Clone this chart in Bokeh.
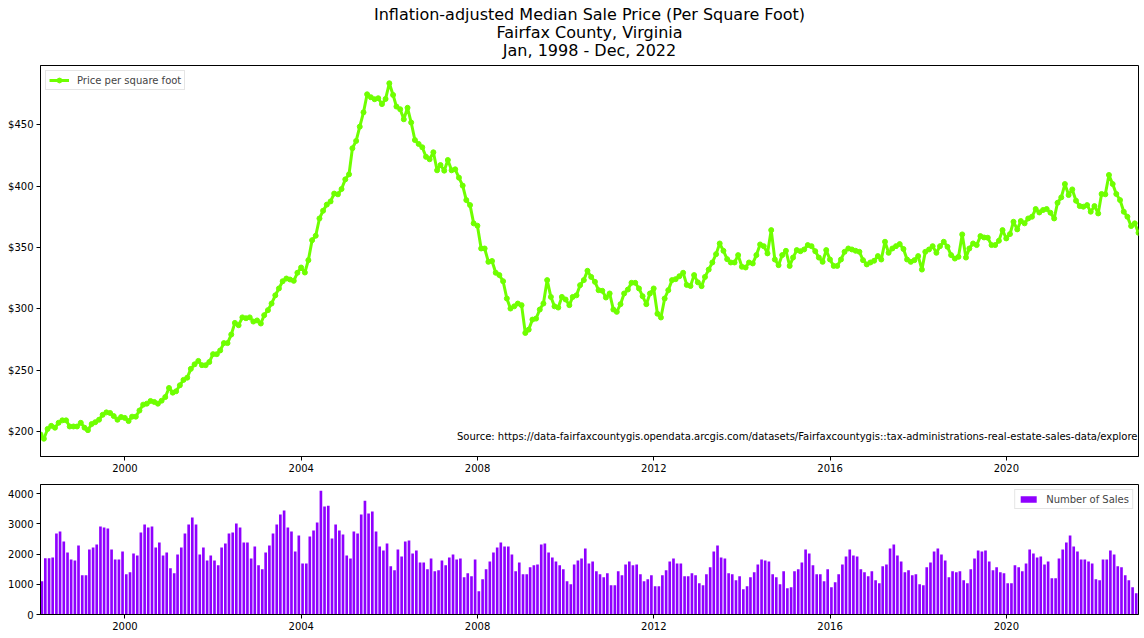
import pandas as pd
from bokeh.plotting import figure
from bokeh.layouts import column
from bokeh.models import (Range1d, FixedTicker, DatetimeTickFormatter, PrintfTickFormatter,
                          Label, ColumnDataSource)
from bokeh.embed import file_html
from bokeh.resources import INLINE
from bokeh.core.properties import value

# ---------------- data ----------------
title_lines = ["Inflation-adjusted Median Sale Price (Per Square Foot)",
               "Fairfax County, Virginia",
               "Jan, 1998 - Dec, 2022"]
source_note = ("Source: https://data-fairfaxcountygis.opendata.arcgis.com/datasets/"
               "Fairfaxcountygis::tax-administrations-real-estate-sales-data/explore")
first_month = "1998-01-01"

price = [
    197.5, 194, 202, 204.5, 203, 207, 209, 209, 204, 204, 204, 207,
    203, 201, 206, 207.5, 209.5, 213.5, 215.5, 215, 212.5, 209.5, 211.7, 211,
    208.4, 212, 212, 217, 221.8, 222.6, 224.8, 224, 222.6, 225, 228, 235.4,
    231.6, 232.7, 237.6, 242, 243.8, 251, 254.7, 257.5, 254, 254, 256.6, 263,
    263, 266, 272, 272, 279, 288.5, 286.6, 293, 292.3, 293, 289.6, 290.5,
    288, 294.8, 298.9, 304.3, 311, 316.6, 322.5, 324.7, 323.9, 322.8, 329.4, 333.7,
    329.6, 339.7, 356, 359.6, 373.7, 380, 385, 387.6, 394, 393.4, 397.7, 405.6,
    409.7, 431, 437, 448.6, 460.3, 475, 472.6, 471, 471.8, 467, 471.2, 484,
    474.5, 465, 462.8, 454.6, 464, 452, 437.7, 434.5, 431.8, 424, 422, 427.7,
    413, 417.3, 412.7, 421.4, 413, 413.8, 407, 400.5, 388.7, 384.6, 369.7, 367.8,
    349.2, 349.2, 338.3, 339, 329.4, 327.5, 322.5, 308.4, 300.2, 302, 304.3, 303,
    280.3, 283, 291.2, 292, 299.4, 304.3, 323.4, 309.7, 302, 301, 309.7, 307.6,
    303, 309.7, 311, 319.3, 323.4, 331, 326, 322, 315.2, 314.7, 309.2, 312.5,
    299.4, 297.5, 303.8, 312.5, 315.7, 321.2, 321.2, 316.6, 310.3, 303.8, 312.5, 316.6,
    296, 292.9, 308.4, 315.2, 323.4, 324.2, 326.6, 329.4, 319.5, 318.6, 327.5, 321.6,
    318.5, 326, 332, 337.8, 344.6, 353.3, 347.3, 340.5, 337.8, 337.8, 343.8, 334.3,
    333.7, 337.8, 337, 343.8, 352.5, 351.1, 345.2, 364.2, 340.2, 335.6, 343.8, 347.3,
    335, 341.8, 347.9, 347, 348.4, 352, 351.1, 347, 341.8, 338.3, 347.9, 340.2,
    335, 335, 340.2, 346.5, 349.2, 348.4, 347.3, 346.5, 339.7, 336.2, 337.8, 339.2,
    343, 340.2, 354.7, 345.7, 349.2, 351.1, 352.8, 348.8, 340.2, 338.3, 339.7, 343,
    332, 346.5, 348.4, 351.1, 345.7, 351.1, 354.7, 350.6, 343.8, 341, 342.4, 360.7,
    341.8, 349.2, 353.3, 352, 359.3, 358.2, 358, 352, 352, 355.5, 364.2, 357.4,
    361, 371, 364.8, 371.6, 369.7, 373.7, 375.1, 381.4, 378.6, 380.6, 381.4, 378.4,
    373.7, 386.5, 390.9, 401.8, 392.8, 397.4, 388.2, 383.8, 383.3, 384.6, 379.2, 383.8,
    377.8, 393.7, 393.4, 409.2, 401.8, 393.7, 388.7, 379.2, 375.1, 367.5, 369.7, 362,
]

sales = [
    1000, 1100, 1860, 1860, 1890, 2684, 2750, 2420, 2057, 1826, 1793, 2288,
    1298, 1298, 2156, 2222, 2321, 2915, 2882, 2849, 2156, 1826, 1826, 2090,
    1331, 1397, 2024, 1958, 2717, 2981, 2882, 2915, 2222, 2387, 1958, 2057,
    1529, 1364, 1991, 2222, 2684, 2981, 3212, 2981, 1991, 2222, 1793, 1958,
    1793, 1628, 2222, 2354, 2684, 2717, 3014, 2882, 2387, 2387, 1859, 2255,
    1628, 1496, 2057, 2288, 2684, 2981, 3311, 3443, 2882, 2750, 2090, 2618,
    1694, 1694, 2585, 2783, 3047, 4103, 3575, 3608, 2519, 2981, 2783, 2651,
    1958, 1859, 2750, 2684, 3311, 3773, 3344, 3410, 2750, 2255, 2123, 2354,
    1595, 1463, 2156, 1925, 2420, 2453, 2024, 2123, 1727, 1727, 1496, 1859,
    1430, 1463, 1793, 1628, 1892, 1991, 1826, 1859, 1232, 1364, 1265, 1826,
    770, 1166, 1496, 1760, 2057, 2222, 2387, 2255, 2255, 1991, 1430, 1727,
    1331, 1331, 1562, 1628, 1661, 2321, 2354, 2057, 1892, 1760, 1628, 1496,
    1100, 1001, 1661, 1793, 1859, 2189, 1694, 1760, 1430, 1331, 1232, 1364,
    968, 968, 1430, 1298, 1661, 1760, 1628, 1661, 1331, 1100, 1166, 1298,
    935, 935, 1298, 1463, 1760, 1859, 1694, 1694, 1265, 1265, 1364, 1298,
    1034, 968, 1331, 1562, 2090, 2288, 1892, 1859, 1364, 1331, 1133, 1265,
    836, 935, 1232, 1397, 1661, 1826, 1793, 1760, 1331, 1232, 1001, 1430,
    869, 902, 1430, 1496, 1727, 2156, 2024, 1628, 1331, 1331, 1100, 1496,
    902, 1067, 1331, 1661, 1925, 2156, 1958, 1925, 1496, 1397, 1265, 1430,
    1133, 1034, 1595, 1661, 2189, 2321, 1958, 1760, 1397, 1463, 1298, 1331,
    1001, 968, 1562, 1727, 2090, 2189, 1991, 1793, 1232, 1430, 1397, 1430,
    1133, 1034, 1496, 1859, 2123, 2090, 2123, 1760, 1463, 1562, 1397, 1364,
    1034, 1034, 1628, 1562, 1430, 1694, 2156, 2024, 1892, 1925, 1661, 1760,
    1199, 1199, 1859, 2156, 2387, 2618, 2255, 2090, 1826, 1826, 1760, 1694,
    1166, 1133, 1826, 1826, 2123, 1991, 1595, 1562, 1298, 1133, 902, 705,
]

year_ticks = [2000, 2004, 2008, 2012, 2016, 2020]
price_ticks = [200, 250, 300, 350, 400, 450]
sales_ticks = [0, 1000, 2000, 3000, 4000]

# ---------------- styling ----------------
FONT = "DejaVu Sans"
GREEN = "#6fff00"
PURPLE = "#8f00ff"
W = 1144

month_start = pd.date_range(first_month, periods=len(price), freq="MS")
month_end = month_start + pd.offsets.MonthEnd(0)
bar_days = 22
bar_center = month_start + pd.Timedelta(days=bar_days / 2)
bar_width_ms = bar_days * 86400000

x_lo = month_end[0].to_pydatetime()
x_hi = month_end[-1].to_pydatetime()
tick_ms = [pd.Timestamp(f"{y}-01-01").timestamp() * 1000 for y in year_ticks]


def style(p):
    p.grid.visible = False
    p.outline_line_color = "black"
    p.outline_line_width = 1
    p.background_fill_color = "white"
    p.border_fill_color = "white"
    for ax in p.axis:
        ax.axis_line_color = "black"
        ax.axis_line_width = 1
        ax.major_tick_out = 4
        ax.major_tick_in = 0
        ax.minor_tick_out = 0
        ax.minor_tick_in = 0
        ax.major_tick_line_color = "black"
        ax.major_label_text_font = FONT
        ax.major_label_text_font_size = "10px"
        ax.major_label_text_color = "black"
        ax.major_label_standoff = 3


def x_axis(p):
    p.xaxis.ticker = FixedTicker(ticks=tick_ms)
    p.xaxis.formatter = DatetimeTickFormatter(years="%Y", months="%Y", days="%Y",
                                              hours="%Y", minutes="%Y")


# ---- title block ----
pt = figure(width=W, height=62, x_range=Range1d(0, W), y_range=Range1d(62, 0),
            toolbar_location=None, output_backend="svg", min_border=0)
pt.axis.visible = False
pt.grid.visible = False
pt.outline_line_color = None
pt.text(x=[W / 2] * 3, y=[14, 32, 49.5], text=title_lines, text_align="center",
        text_baseline="middle", text_font=value(FONT), text_font_size="16px",
        text_color="black")

# ---- price chart ----
span = max(price) - min(price)
p1 = figure(width=W, height=416, x_axis_type="datetime",
            x_range=Range1d(start=x_lo, end=x_hi),
            y_range=Range1d(min(price) - 0.05 * span, max(price) + 0.05 * span),
            toolbar_location=None, output_backend="svg",
            min_border_left=40, min_border_right=6, min_border_top=3, min_border_bottom=22)
src = ColumnDataSource(dict(date=month_end, price=price))
p1.line("date", "price", source=src, line_color=GREEN, line_width=3,
        legend_label="Price per square foot")
p1.scatter("date", "price", source=src, size=5, fill_color=GREEN, line_color=GREEN,
           legend_label="Price per square foot")
style(p1)
x_axis(p1)
p1.yaxis.ticker = FixedTicker(ticks=price_ticks)
p1.yaxis.formatter = PrintfTickFormatter(format="$%d")

lg = p1.legend[0]
lg.location = "top_left"
lg.margin = 5
lg.padding = 3
lg.spacing = 0
lg.glyph_width = 20
lg.glyph_height = 12
lg.label_height = 12
lg.label_standoff = 8
lg.label_text_font = FONT
lg.label_text_font_size = "10px"
lg.border_line_color = "#cccccc"
lg.background_fill_alpha = 0.8

p1.add_layout(Label(x=pd.Timestamp(x_hi).timestamp() * 1000, y=195.9, x_offset=-1,
                    text=source_note, text_align="right", text_baseline="middle",
                    text_font=FONT, text_font_size="10px", text_color="black"))

# ---- sales chart ----
p2 = figure(width=W, height=158, x_axis_type="datetime",
            x_range=Range1d(start=x_lo, end=x_hi),
            y_range=Range1d(0, max(sales) * 1.05),
            toolbar_location=None, output_backend="svg",
            min_border_left=40, min_border_right=6, min_border_top=6, min_border_bottom=22)
src2 = ColumnDataSource(dict(center=bar_center, sales=sales))
p2.vbar(x="center", top="sales", width=bar_width_ms, source=src2, fill_color=PURPLE,
        line_color=None, legend_label="Number of Sales")
style(p2)
x_axis(p2)
p2.yaxis.ticker = FixedTicker(ticks=sales_ticks)
p2.yaxis.formatter = PrintfTickFormatter(format="%d")

lg2 = p2.legend[0]
lg2.location = "top_right"
lg2.margin = 5
lg2.padding = 3
lg2.spacing = 0
lg2.glyph_width = 20
lg2.glyph_height = 8
lg2.label_height = 12
lg2.label_standoff = 8
lg2.label_text_font = FONT
lg2.label_text_font_size = "10px"
lg2.border_line_color = "#cccccc"
lg2.background_fill_alpha = 0.8

layout = column(pt, p1, p2, spacing=0)
open("out.html", "w").write(file_html(layout, INLINE))
